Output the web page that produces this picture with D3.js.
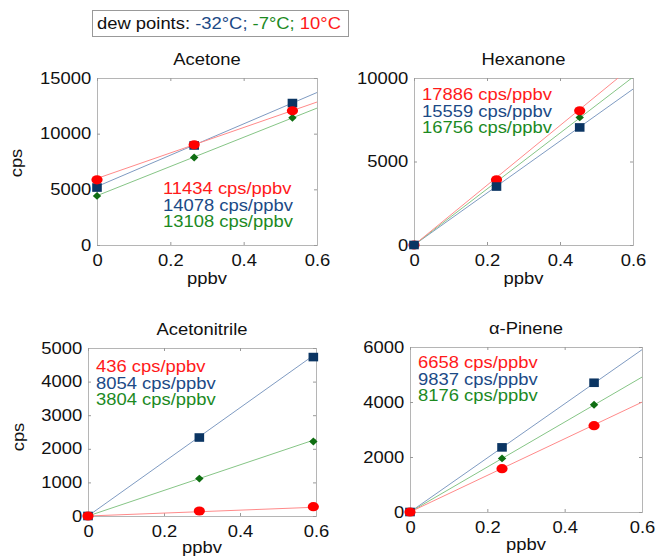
<!DOCTYPE html>
<html lang="en">
<head>
<meta charset="UTF-8">
<title>calibration</title>
<script src="https://cdn.jsdelivr.net/npm/d3@7"></script>
<style>
  body { margin: 0; background: #fff; }
  text { font-family: "Liberation Sans", Arial, Helvetica, sans-serif; }
</style>
</head>
<body>
<script>

    // dew point series, order: -32C (blue), -7C (green), 10C (red)
    var dewPoints = ['-32°C;', '-7°C;', '10°C'];
    var markColors = ['#0b3563', '#0f6e12', '#ff0000'];
    var textColors = ['#1b4a86', '#1c8a1f', '#ff1a1a'];
    var lineColors = ['#7f9bc2', '#86c586', '#ff8a8a'];

    var titles = ['Acetone', 'Hexanone', 'Acetonitrile', 'α-Pinene'];

    var acetoneConc = [0, 0.265, 0.533];
    var acetoneCps = [[5160, 8940, 12750], [4410, 7860, 11430], [5850, 9000, 12060]];
    var acetoneSlope = [14078, 13108, 11434];
    var acetoneIntercept = [5250, 4430, 5980];

    var hexanoneConc = [0, 0.226, 0.454];
    var hexanoneCps = [[0, 3500, 7040], [0, 3760, 7640], [0, 3900, 8040]];
    var hexanoneSlope = [15559, 16756, 17886];
    var hexanoneIntercept = [0, 0, 0];

    var acetonitrileConc = [0, 0.293, 0.593];
    var acetonitrileCps = [[0, 2336, 4730], [0, 1113, 2217], [0, 149, 278]];
    var acetonitrileSlope = [8054, 3804, 436];
    var acetonitrileIntercept = [0, 0, 0];

    var pineneConc = [0, 0.238, 0.476];
    var pineneCps = [[0, 2350, 4700], [0, 1950, 3900], [0, 1575, 3140]];
    var pineneSlope = [9837, 8176, 6658];
    var pineneIntercept = [0, 0, 0];

    var xTicks = [0, 0.2, 0.4, 0.6];
    var yMax = [15000, 10000, 5000, 6000];
    var yStep = [5000, 5000, 1000, 2000];

    var panels = [
        {conc: acetoneConc, cps: acetoneCps, slope: acetoneSlope, icpt: acetoneIntercept,
         box: [97, 317, 78, 245], note: [163, 194], cps_label: [17, 163], xlab: 284, order: [1, 0, 2]},
        {conc: hexanoneConc, cps: hexanoneCps, slope: hexanoneSlope, icpt: hexanoneIntercept,
         box: [414, 633, 78, 245], note: [422, 100], cps_label: null, xlab: 284, order: [1, 2, 0]},
        {conc: acetonitrileConc, cps: acetonitrileCps, slope: acetonitrileSlope, icpt: acetonitrileIntercept,
         box: [88, 316, 348, 516], note: [96, 372], cps_label: [19, 437], xlab: 553, order: [1, 0, 2]},
        {conc: pineneConc, cps: pineneCps, slope: pineneSlope, icpt: pineneIntercept,
         box: [410, 642, 347, 512], note: [418, 368], cps_label: null, xlab: 550, order: [1, 0, 2]}
    ];

    var width = 657, height = 558;
    var sx = 1.15; // source image is stretched horizontally
    var fs = 16;

    var svg = d3.select('body').append('svg')
        .attr('width', width)
        .attr('height', height);

    function label(g, x, y, str, anchor, color, rot) {
        return g.append('text')
            .attr('transform', 'translate(' + x + ',' + y + ')' + (rot ? ' rotate(-90)' : '') + ' scale(' + sx + ',1)')
            .attr('text-anchor', anchor)
            .attr('font-size', fs)
            .attr('fill', color || '#111')
            .text(str);
    }

    // marker shapes: square, diamond, ellipse (slightly wider than tall)
    function marker(s) {
        if (s === 0) return 'M-4.8,-4.3H4.8V4.3H-4.8Z';
        if (s === 1) return 'M0,-3.9L4.2,0L0,3.9L-4.2,0Z';
        return 'M-5.6,0A5.6,4.6 0 1,0 5.6,0A5.6,4.6 0 1,0 -5.6,0Z';
    }

    // legend box
    svg.append('rect')
        .attr('x', 92.5).attr('y', 10.5)
        .attr('width', 256).attr('height', 26)
        .attr('fill', '#fff').attr('stroke', '#999');
    var lg = svg.append('text')
        .attr('transform', 'translate(97,29) scale(' + sx + ',1)')
        .attr('font-size', fs);
    lg.append('tspan').attr('fill', '#111').text('dew points: ');
    lg.append('tspan').attr('fill', textColors[0]).text(dewPoints[0] + ' ');
    lg.append('tspan').attr('fill', textColors[1]).text(dewPoints[1] + ' ');
    lg.append('tspan').attr('fill', textColors[2]).text(dewPoints[2]);

    panels.forEach(function (p, k) {
        var x0 = p.box[0], x1 = p.box[1], y0 = p.box[2], y1 = p.box[3];
        var x = d3.scaleLinear().domain([0, 0.6]).range([x0, x1]);
        var y = d3.scaleLinear().domain([0, yMax[k]]).range([y1, y0]);
        var yTicks = d3.range(0, yMax[k] + 1, yStep[k]);

        var g = svg.append('g');

        var clipId = 'clip' + k;
        g.append('clipPath').attr('id', clipId)
            .append('rect').attr('x', x0).attr('y', y0)
            .attr('width', x1 - x0).attr('height', y1 - y0);

        // axes with inward ticks
        var axB = g.append('g').attr('transform', 'translate(0,' + y1 + ')')
            .call(d3.axisBottom(x).tickValues(xTicks).tickSize(-3).tickPadding(6).tickFormat(d3.format('~g')));
        var axL = g.append('g').attr('transform', 'translate(' + x0 + ',0)')
            .call(d3.axisLeft(y).tickValues(yTicks).tickSize(-3).tickPadding(5).tickFormat(d3.format('d')));
        var axT = g.append('g').attr('transform', 'translate(0,' + y0 + ')')
            .call(d3.axisTop(x).tickValues(xTicks).tickSize(-3).tickFormat(''));
        var axR = g.append('g').attr('transform', 'translate(' + x1 + ',0)')
            .call(d3.axisRight(y).tickValues(yTicks).tickSize(-3).tickFormat(''));

        [axB, axL, axT, axR].forEach(function (a) {
            a.select('.domain').attr('stroke', '#b5b5b5');
            a.selectAll('.tick line').attr('stroke', '#999');
            a.selectAll('.tick text')
                .attr('font-size', fs)
                .attr('font-family', '"Liberation Sans", Arial, sans-serif')
                .attr('fill', '#111')
                .attr('transform', 'scale(' + sx + ',1)');
        });
        axB.selectAll('.tick text').attr('dy', '0.95em');

        // fit lines
        var lines = g.append('g').attr('clip-path', 'url(#' + clipId + ')');
        [0, 1, 2].forEach(function (s) {
            lines.append('line')
                .attr('x1', x(0)).attr('y1', y(p.icpt[s]))
                .attr('x2', x(0.6)).attr('y2', y(p.icpt[s] + p.slope[s] * 0.6))
                .attr('stroke', lineColors[s])
                .attr('stroke-width', 1);
        });

        // markers
        p.order.forEach(function (s) {
            g.append('g').selectAll('path').data(p.cps[s]).enter().append('path')
                .attr('d', marker(s))
                .attr('transform', function (d, i) { return 'translate(' + x(p.conc[i]) + ',' + y(d) + ')'; })
                .attr('fill', markColors[s]);
        });

        // slope notes: red, blue, green
        [2, 0, 1].forEach(function (s, j) {
            label(g, p.note[0], p.note[1] + j * 16.7, p.slope[s] + ' cps/ppbv', 'start', textColors[s]);
        });

        label(g, (x0 + x1) / 2, y0 - 13, titles[k], 'middle', '#111');
        label(g, (x0 + x1) / 2, p.xlab, 'ppbv', 'middle', '#111');
        if (p.cps_label) {
            label(g, p.cps_label[0] + 5, p.cps_label[1], 'cps', 'middle', '#111', true);
        }
    });

</script>
</body>
</html>
